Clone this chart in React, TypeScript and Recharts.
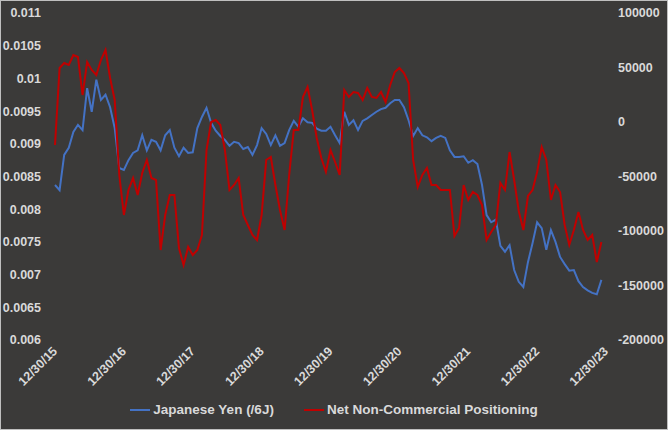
import { LineChart, Line, XAxis, YAxis, Legend } from 'recharts';

const tickLabels = ['12/30/15', '12/30/16', '12/30/17', '12/30/18', '12/30/19', '12/30/20', '12/30/21', '12/30/22', '12/30/23'];

const yenLeftTicks = [0.006, 0.0065, 0.007, 0.0075, 0.008, 0.0085, 0.009, 0.0095, 0.01, 0.0105, 0.011];
const netRightTicks = [-200000, -150000, -100000, -50000, 0, 50000, 100000];

// Japanese Yen (/6J)
const yenValues = [
    0.00837, 0.00829, 0.00883, 0.00894, 0.00918, 0.00929, 0.00921, 0.00985, 0.00949, 0.00998,
    0.00967, 0.00975, 0.00956, 0.00924, 0.00863, 0.0086, 0.00875, 0.00886, 0.0089, 0.00913,
    0.0089, 0.00906, 0.00903, 0.0089, 0.00913, 0.00921, 0.00894, 0.00881, 0.00894, 0.00886,
    0.00887, 0.00924, 0.00941, 0.00955, 0.00932, 0.0092, 0.00912, 0.00906, 0.00897, 0.00903,
    0.00901, 0.00892, 0.00895, 0.00883, 0.00898, 0.00924, 0.00915, 0.00898, 0.00913, 0.00897,
    0.00901, 0.00921, 0.00935, 0.00926, 0.00939, 0.00933, 0.00932, 0.00923, 0.0092, 0.0092,
    0.00926, 0.00913, 0.00901, 0.00949, 0.00929, 0.00936, 0.00921, 0.00935, 0.00939, 0.00944,
    0.00949, 0.00953, 0.00955, 0.00962, 0.00967, 0.00967, 0.00956, 0.00936, 0.00912, 0.00924,
    0.00913, 0.0091, 0.00904, 0.00909, 0.00912, 0.00909, 0.0089, 0.0088, 0.0088, 0.00881,
    0.00871, 0.00875, 0.00869, 0.00837, 0.00791, 0.0078, 0.00784, 0.00744, 0.00735, 0.00745,
    0.00707, 0.00689, 0.00681, 0.00719, 0.00748, 0.0078, 0.00771, 0.00738, 0.00768, 0.0075,
    0.00727, 0.00716, 0.00706, 0.00707, 0.0069, 0.00681, 0.00676, 0.00672, 0.0067, 0.00692,
];

// Net Non-Commercial Positioning (contracts)
const netPositions = [
    -21100, 49540, 54130, 52290, 61470, 59630, 24770, 55050, 47710, 43120,
    56880, 66060, 40370, 20180, -48620, -85320, -62390, -51380, -66970, -46790,
    -34860, -51380, -53210, -117430, -85320, -66970, -66970, -115600, -131190, -114680,
    -122020, -117430, -103670, -25690, 0, 1840, -2750, -25690, -62390, -57800,
    -51380, -85320, -94500, -103670, -108260, -85320, -34860, -32110, -57800, -80730,
    -99080, -48620, -7340, -7340, 22940, 32110, 11010, -14680, -33030, -45870,
    -25690, -36700, -48620, 29360, 22940, 27520, 26610, 20180, 31190, 22940,
    22020, 27520, 18350, 33950, 45870, 49540, 44950, 35780, -34860, -59630,
    -48620, -42200, -57800, -57800, -62390, -62390, -62390, -104590, -97250, -57800,
    -71560, -64220, -66970, -76150, -108260, -100920, -94500, -55960, -62390, -27520,
    -53210, -81650, -99080, -67890, -62390, -45870, -22940, -34860, -71560, -57800,
    -64220, -94500, -112840, -99080, -82570, -99080, -108260, -103670, -128440, -110090,
];

const pointsPerLabel = 15;

const chartData = yenValues.map((yen, i) => ({ i, yen, net: netPositions[i] }));

const FONT = '"Liberation Sans", Arial, sans-serif';
const TEXT = '#d9d9d9';

function DateTick({ x, y, payload }: any) {
    const label = tickLabels[Math.round(payload.value / pointsPerLabel)];
    return (
        <text
            x={x + 3}
            y={y + 4}
            transform={`rotate(-45 ${x + 3} ${y + 4})`}
            textAnchor="end"
            fill={TEXT}
            fontSize={12.5}
            fontWeight="bold"
            fontFamily={FONT}
        >
            {label}
        </text>
    );
}

function LegendBox() {
    const items = [
        { name: 'Japanese Yen (/6J)', color: '#4472c4' },
        { name: 'Net Non-Commercial Positioning', color: '#c00000' },
    ];
    return (
        <div style={{ display: 'flex', justifyContent: 'center', gap: 30, fontFamily: FONT, fontWeight: 'bold', fontSize: 13.5, color: TEXT }}>
            {items.map((it) => (
                <div key={it.name} style={{ display: 'flex', alignItems: 'center' }}>
                    <span style={{ display: 'inline-block', width: 20, height: 2, background: it.color, marginRight: 3 }} />
                    <span>{it.name}</span>
                </div>
            ))}
        </div>
    );
}

export default function App() {
    return (
        <div style={{ width: 668, height: 430, background: '#3b3a39', boxSizing: 'border-box', border: '1px solid #bfbfbf', position: 'relative' }}>
            <style>{'body { margin: 0; }'}</style>
            <div style={{ position: 'absolute', left: -1, top: -1 }}>
                <LineChart width={668} height={430} data={chartData} margin={{ top: 13, right: 0, bottom: 0, left: 0 }}>
                    <XAxis
                        type="number"
                        dataKey="i"
                        domain={[0, (tickLabels.length - 1) * pointsPerLabel]}
                        ticks={tickLabels.map((_, k) => k * pointsPerLabel)}
                        tick={<DateTick />}
                        axisLine={false}
                        tickLine={false}
                        height={62}
                        interval={0}
                    />
                    <YAxis
                        yAxisId="left"
                        domain={[0.006, 0.011]}
                        ticks={yenLeftTicks}
                        axisLine={false}
                        tickLine={false}
                        width={55}
                        tickMargin={8}
                        tick={{ fill: TEXT, fontSize: 12.5, fontWeight: 'bold', fontFamily: FONT }}
                        interval={0}
                    />
                    <YAxis
                        yAxisId="right"
                        orientation="right"
                        domain={[-200000, 100000]}
                        ticks={netRightTicks}
                        axisLine={false}
                        tickLine={false}
                        width={62}
                        tickMargin={6}
                        tick={{ fill: TEXT, fontSize: 12.5, fontWeight: 'bold', fontFamily: FONT }}
                        interval={0}
                    />
                    <Legend verticalAlign="bottom" height={28} content={() => <LegendBox />} />
                    <Line yAxisId="left" type="linear" dataKey="yen" stroke="#4472c4" strokeWidth={2} dot={false} isAnimationActive={false} />
                    <Line yAxisId="right" type="linear" dataKey="net" stroke="#c00000" strokeWidth={2} dot={false} isAnimationActive={false} />
                </LineChart>
            </div>
        </div>
    );
}
